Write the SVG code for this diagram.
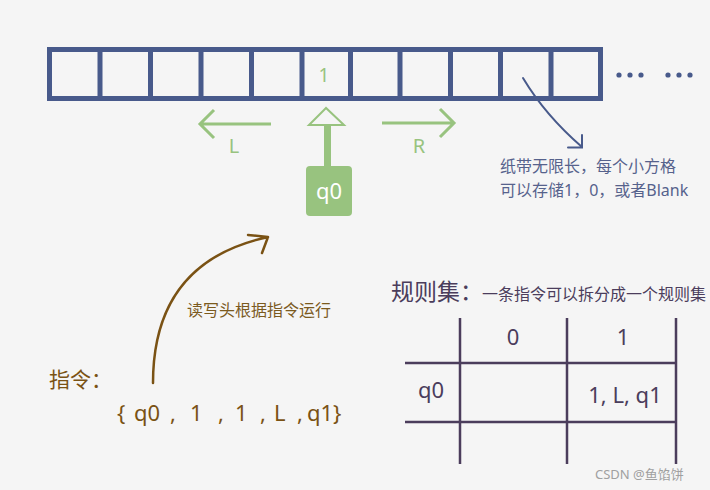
<svg xmlns="http://www.w3.org/2000/svg" width="710" height="490" viewBox="0 0 710 490">
<defs>
<style>
text{font-family:"Noto Sans","Noto Sans CJK SC",sans-serif;}
.tape{fill:none;stroke:#485a8b;stroke-width:5;}
.grn{stroke:#98c37f;fill:none;stroke-width:3;}
.brown{fill:#7a5214;}
.purp{fill:#4b3d5c;}
.tbl{stroke:#4b3d5c;stroke-width:2.5;}
.note{fill:#56628c;font-size:16px;}
</style>
</defs>
<rect width="710" height="490" fill="#f5f5f5"/>
<g id="tape">
<rect class="tape" x="49.5" y="49.5" width="551" height="49"/>
<path class="tape" d="M100,49.5V98.5M150.5,49.5V98.5M201,49.5V98.5M251.5,49.5V98.5M302,49.5V98.5M350.5,49.5V98.5M400,49.5V98.5M450.5,49.5V98.5M500.5,49.5V98.5M551,49.5V98.5"/>
<text x="324" y="82" font-size="19" fill="#98c37f" text-anchor="middle">1</text>
<g fill="#485a8b">
<circle cx="619" cy="75" r="2.6"/><circle cx="630" cy="75" r="2.6"/><circle cx="641" cy="75" r="2.6"/>
<circle cx="668" cy="75" r="2.6"/><circle cx="679" cy="75" r="2.6"/><circle cx="690" cy="75" r="2.6"/>
</g>
</g>
<g id="head">
<polygon points="326,108 309,125 344,125" fill="#f5f5f5" stroke="#98c37f" stroke-width="2"/>
<rect x="324" y="126" width="7" height="42" fill="#98c37f"/>
<rect x="306" y="166" width="46" height="50" rx="4" fill="#98c37f"/>
<text x="329" y="199" font-size="22" fill="#ffffff" text-anchor="middle">q0</text>
</g>
<g id="moves">
<path class="grn" d="M271,124H200M214,110L200,124L214,138"/>
<text x="234" y="153" font-size="20" fill="#98c37f" text-anchor="middle">L</text>
<path class="grn" d="M382,123H454M440,109L454,123L440,137"/>
<text x="419" y="153" font-size="20" fill="#98c37f" text-anchor="middle">R</text>
</g>
<g id="connectors">
<path d="M523,78C538,103 560,128 582,147M568,147.5L582,147.5L582,135" fill="none" stroke="#485a8b" stroke-width="2" stroke-linecap="round"/>
<path d="M153,383C153,310 185,255 268,237M248,235L268,237L262,253" fill="none" stroke="#7a5214" stroke-width="2.5" stroke-linecap="round" stroke-linejoin="round"/>
</g>
<g id="tape-note">
<text class="note" x="500" y="172">纸带无限长，每个小方格</text>
<text class="note" x="500" y="196">可以存储1，0，或者Blank</text>
</g>
<g id="head-note">
<text x="187" y="316" font-size="16" fill="#7b5a1e">读写头根据指令运行</text>
</g>
<g id="instruction">
<text class="brown" x="49" y="387" font-size="21">指令：</text>
<text class="brown" y="421" font-size="22"><tspan x="117">{</tspan><tspan x="134">q0</tspan><tspan x="170">,</tspan><tspan x="190">1</tspan><tspan x="218">,</tspan><tspan x="235">1</tspan><tspan x="260">,</tspan><tspan x="274">L</tspan><tspan x="297">,</tspan><tspan x="307">q1}</tspan></text>
</g>
<g id="rules">
<text class="purp" x="391" y="300" font-size="23">规则集：</text>
<text class="purp" x="482" y="300" font-size="16">一条指令可以拆分成一个规则集</text>
<path class="tbl" d="M460,318V464M567,318V464M676,318V464M405,363H676M405,422H676"/>
<text class="purp" x="513" y="345" font-size="22" text-anchor="middle">0</text>
<text class="purp" x="623" y="345" font-size="22" text-anchor="middle">1</text>
<text class="purp" x="431" y="398" font-size="22" text-anchor="middle">q0</text>
<text class="purp" x="625" y="403" font-size="22" text-anchor="middle">1, L, q1</text>
</g>
<text x="595" y="479" font-size="13" fill="#a0a0a0">CSDN @鱼馅饼</text>
</svg>
